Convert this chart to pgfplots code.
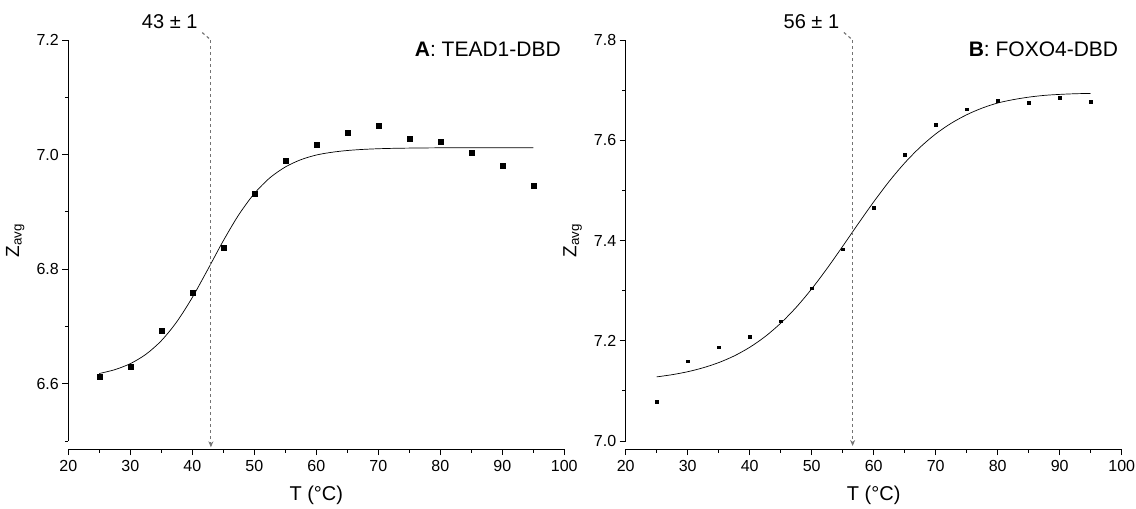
\documentclass[border=0pt]{standalone}
\usepackage{pgfplots}
\usepackage{pgfplotstable}
\pgfplotsset{compat=1.18}
\usepackage{fontspec}
\setmainfont{Liberation Sans}
\usetikzlibrary{arrows.meta}

\pgfplotstableread{
x y
25 6.612
30 6.630
35 6.692
40 6.758
45 6.838
50 6.931
55 6.989
60 7.018
65 7.039
70 7.050
75 7.028
80 7.023
85 7.004
90 6.980
95 6.945
}\dataA

\pgfplotstableread{
x y
25 6.6178
27.5 6.6245
30 6.6350
32.5 6.6512
35 6.6750
37.5 6.7081
40 6.7505
42.5 6.7994
45 6.8495
47.5 6.8950
50 6.9319
52.5 6.9593
55 6.9783
57.5 6.9910
60 6.9992
62.5 7.0040
65 7.0071
67.5 7.0090
70 7.0102
72.5 7.0109
75 7.0113
80 7.0118
85 7.0119
90 7.0120
95 7.0120
}\fitA

\pgfplotstableread{
x y
25 7.078
30 7.159
35 7.187
40 7.208
45 7.239
50 7.305
55 7.383
60 7.465
65 7.571
70 7.631
75 7.662
80 7.679
85 7.675
90 7.685
95 7.677
}\dataB

\pgfplotstableread{
x y
25 7.1279
27.5 7.1323
30 7.1382
32.5 7.1461
35 7.1564
37.5 7.1697
40 7.1869
42.5 7.2084
45 7.2350
47.5 7.2667
50 7.3035
52.5 7.3446
55 7.3885
57.5 7.4334
60 7.4771
62.5 7.5181
65 7.5547
67.5 7.5862
70 7.6126
72.5 7.6339
75 7.6509
77.5 7.6642
80 7.6743
82.5 7.6810
85 7.6860
87.5 7.6895
90 7.6915
92.5 7.6928
95 7.6935
}\fitB

\tikzset{dashline/.style={draw=black!55, line width=1.15pt, dash pattern=on 3pt off 3pt}}

\begin{document}
\begin{tikzpicture}
\path[use as bounding box] (0pt,0pt) rectangle (1136pt,-509pt);
\pgfplotsset{
 myax/.style={
  scale only axis, anchor=south west,
  width=496pt, height=409pt,
  xmin=20, xmax=100,
  axis x line*=bottom, axis y line*=left,
  y axis line style={draw=none},
  x axis line style={line width=0.9pt},
  tick align=outside,
  xtick={20,30,...,100}, minor xtick={25,35,...,95},
  major tick length=6pt, minor tick length=3.5pt,
  every tick/.style={black, line width=0.9pt},
  ticklabel style={font=\fontsize{16}{16}\selectfont},
  xticklabel style={yshift=-2pt},
  /pgf/number format/assume math mode=true,
  yticklabel style={/pgf/number format/.cd, fixed, fixed zerofill, precision=1},
  xlabel={T (°C)},
  xlabel style={at={(axis description cs:0.5,0)}, anchor=center, yshift=-46pt, font=\fontsize{20}{20}\selectfont},
  ylabel={Z\textsubscript{avg}},
  ylabel style={at={(axis description cs:-0.107,0.51)}, anchor=center, font=\fontsize{19}{19}\selectfont},
  clip=false,
 },
}
% Panel A
\begin{axis}[myax, at={(68.3pt,-449pt)},
  ymin=6.486, ymax=7.2,
  ytick={6.6,6.8,7.0,7.2}, minor ytick={6.5,6.7,6.9,7.1}]
  \draw[line width=0.9pt] (axis cs:20,6.5) -- (axis cs:20,7.2);
  \addplot[black, line width=0.7pt, smooth, no marks] table {\fitA};
  \addplot[only marks, mark=square*, mark size=2.5pt, black] table {\dataA};
  \draw[dashline] (axis cs:41.6,7.213) -- (axis cs:43,7.2);
  \draw[dashline, -{Stealth[length=6pt,width=5pt]}] (axis cs:43,7.2) -- (axis cs:43,6.489);
  \node[anchor=east, font=\fontsize{20}{20}\selectfont] at (axis cs:41.4,7.232) {43 ± 1};
  \node[anchor=east, font=\fontsize{21}{21}\selectfont] at (axis cs:100,7.184) {\textbf{A}: TEAD1-DBD};
\end{axis}
% Panel B
\begin{axis}[myax, at={(625.7pt,-449pt)},
  ymin=6.984, ymax=7.8,
  ytick={7.0,7.2,7.4,7.6,7.8}, minor ytick={7.1,7.3,7.5,7.7}]
  \draw[line width=0.9pt] (axis cs:20,7.0) -- (axis cs:20,7.8);
  \addplot[black, line width=0.7pt, smooth, no marks] table {\fitB};
  \addplot[only marks, mark=square*, mark size=1.3pt, black] table {\dataB};
  \draw[dashline] (axis cs:55.2,7.815) -- (axis cs:56.6,7.8);
  \draw[dashline, -{Stealth[length=6pt,width=5pt]}] (axis cs:56.6,7.8) -- (axis cs:56.6,6.99);
  \node[anchor=east, font=\fontsize{20}{20}\selectfont] at (axis cs:55.0,7.837) {56 ± 1};
  \node[anchor=east, font=\fontsize{21}{21}\selectfont] at (axis cs:100,7.782) {\textbf{B}: FOXO4-DBD};
\end{axis}
\end{tikzpicture}
\end{document}
